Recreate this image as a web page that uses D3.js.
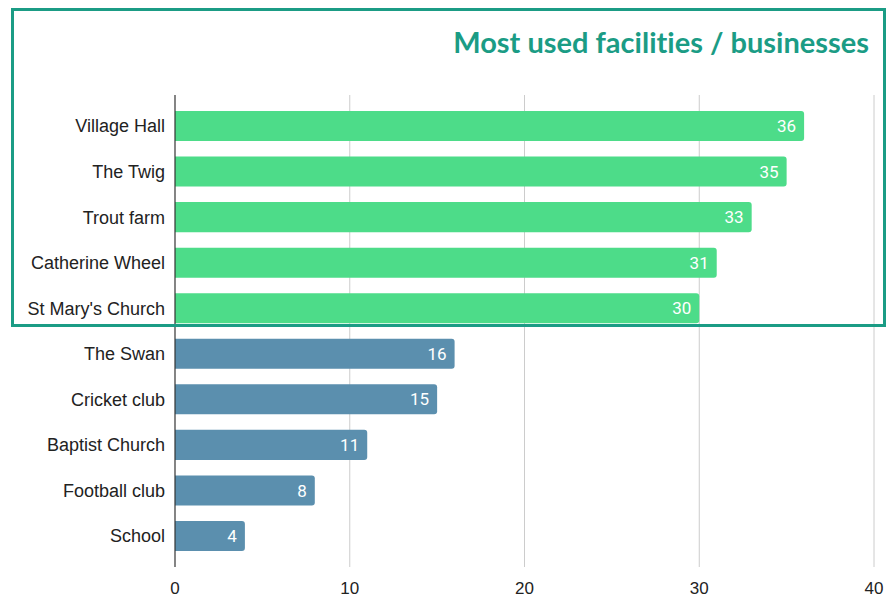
<!DOCTYPE html>
<html>
<head>
<meta charset="utf-8">
<script src="https://cdn.jsdelivr.net/npm/d3@7"></script>
<style>
    body { margin: 0; background: #fff; }
    svg { display: block; }
</style>
</head>
<body>
<div class="chart"></div>
<script>
var categories = ["Village Hall", "The Twig", "Trout farm", "Catherine Wheel", "St Mary's Church",
    "The Swan", "Cricket club", "Baptist Church", "Football club", "School"];
var counts = [36, 35, 33, 31, 30, 16, 15, 11, 8, 4];
var highlighted = ["Village Hall", "The Twig", "Trout farm", "Catherine Wheel", "St Mary's Church"];
var xTicks = [0, 10, 20, 30, 40];
var title = "Most used facilities / businesses";

drawChart();

function drawChart() {
    var width = 894, height = 597;
    var left = 175, right = 874, top = 95, bottom = 567;

    var svg = d3.select('.chart')
        .append('svg')
        .attr('width', width)
        .attr('height', height);

    var x = d3.scaleLinear().domain([0, 40]).range([left, right]);
    var y = d3.scaleBand().domain(categories).range([top, bottom])
        .paddingInner(0.34).paddingOuter(0.35);

    // gridlines
    svg.selectAll('line.grid')
        .data(xTicks.slice(1))
        .enter()
        .append('line')
        .attr('x1', function (d) { return x(d); })
        .attr('x2', function (d) { return x(d); })
        .attr('y1', top)
        .attr('y2', bottom)
        .attr('stroke', '#cccccc')
        .attr('stroke-width', 1);

    // bars with rounded right end
    var r = 3;
    svg.selectAll('path.bar')
        .data(counts)
        .enter()
        .append('path')
        .attr('d', function (d, i) {
            var x0 = x(0), x1 = x(d), y0 = y(categories[i]), h = y.bandwidth();
            return 'M' + x0 + ',' + y0 + 'H' + (x1 - r) + 'Q' + x1 + ',' + y0 + ' ' + x1 + ',' + (y0 + r)
                + 'V' + (y0 + h - r) + 'Q' + x1 + ',' + (y0 + h) + ' ' + (x1 - r) + ',' + (y0 + h)
                + 'H' + x0 + 'Z';
        })
        .attr('fill', function (d, i) {
            return highlighted.indexOf(categories[i]) >= 0 ? '#4ddc89' : '#5b8fae';
        });

    // value labels
    svg.selectAll('text.value')
        .data(counts)
        .enter()
        .append('text')
        .attr('x', function (d) { return x(d) - 8; })
        .attr('y', function (d, i) { return y(categories[i]) + y.bandwidth() / 2; })
        .attr('dy', '0.36em')
        .attr('text-anchor', 'end')
        .attr('fill', '#ffffff')
        .style('font-family', 'Roboto, sans-serif')
        .style('font-size', '17px')
        .text(function (d) { return d; });

    // y axis line
    svg.append('line')
        .attr('x1', x(0)).attr('x2', x(0))
        .attr('y1', top).attr('y2', bottom)
        .attr('stroke', '#333333')
        .attr('stroke-width', 1.2);

    // category labels
    svg.selectAll('text.cat')
        .data(categories)
        .enter()
        .append('text')
        .attr('x', left - 10)
        .attr('y', function (d) { return y(d) + y.bandwidth() / 2; })
        .attr('dy', '0.36em')
        .attr('text-anchor', 'end')
        .attr('fill', '#222222')
        .style('font-family', '"Liberation Sans", Arial, sans-serif')
        .style('font-size', '18px')
        .text(function (d) { return d; });

    // x tick labels
    svg.selectAll('text.tick')
        .data(xTicks)
        .enter()
        .append('text')
        .attr('x', function (d) { return x(d); })
        .attr('y', 594)
        .attr('text-anchor', 'middle')
        .attr('fill', '#222222')
        .style('font-family', '"Liberation Sans", Arial, sans-serif')
        .style('font-size', '17px')
        .text(function (d) { return d; });

    // highlight box
    svg.append('rect')
        .attr('x', 12.5).attr('y', 9.5)
        .attr('width', 872).attr('height', 316)
        .attr('fill', 'none')
        .attr('stroke', '#1b9c85')
        .attr('stroke-width', 3);

    svg.append('text')
        .attr('x', 869)
        .attr('y', 53)
        .attr('text-anchor', 'end')
        .attr('fill', '#1b9c85')
        .style('font-family', 'Lato, sans-serif')
        .style('font-weight', 'bold')
        .style('font-size', '29px')
        .style('font-variant-ligatures', 'none')
        .text(title);
}
</script>
</body>
</html>
